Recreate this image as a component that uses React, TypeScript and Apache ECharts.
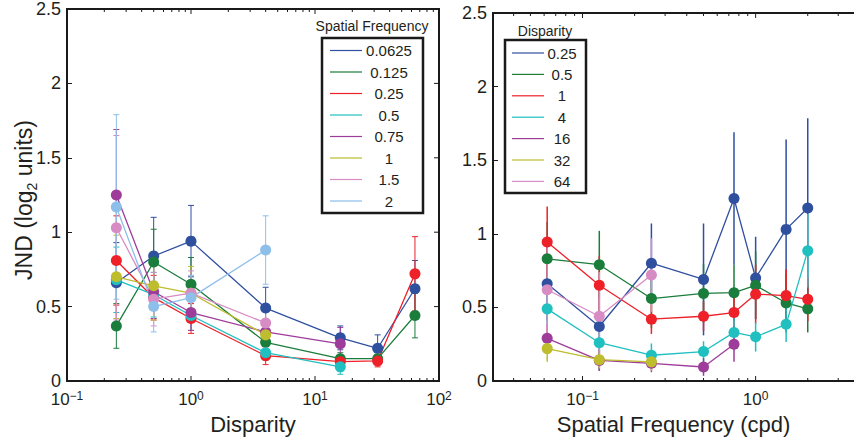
import React, { useEffect, useRef } from 'react';
import * as echarts from 'echarts';

// ---------- categories ----------
const DISPARITY = [0.25, 0.5, 1, 4, 16, 32, 64];
const SPATIAL_FREQ = [0.0625, 0.125, 0.25, 0.5, 0.75, 1, 1.5, 2];
const SF_LABELS = ['0.0625', '0.125', '0.25', '0.5', '0.75', '1', '1.5', '2'];
const DISP_LABELS = ['0.25', '0.5', '1', '4', '16', '32', '64'];

// ---------- tick values ----------
const L_MAJOR_TICKS = [0.1, 1, 10, 100];
const L_MINOR_TICKS = [0.2, 0.3, 0.4, 0.5, 0.6, 0.7, 0.8, 0.9, 2, 3, 4, 5, 6, 7, 8, 9, 20, 30, 40, 50, 60, 70, 80, 90];
const R_MAJOR_TICKS = [0.1, 1];
const R_MINOR_TICKS = [0.04, 0.05, 0.06, 0.07, 0.08, 0.09, 0.2, 0.3, 0.4, 0.5, 0.6, 0.7, 0.8, 0.9, 2, 3];
const Y_TICKS = [0, 0.5, 1, 1.5, 2, 2.5];
const Y_MIN = 0;
const Y_MAX = 2.5;
const Y_INTERVAL = 0.5;
const L_X_MIN = 0.1;
const L_X_MAX = 100;
const R_X_MIN = 0.0304;
const R_X_MAX = 3.7;

// ---------- left panel: JND vs disparity, one line per spatial frequency ----------
const L_SF_0625 = [0.66, 0.84, 0.94, 0.49, 0.29, 0.22, 0.62];
const L_SF_0625_ERR = [0.27, 0.26, 0.24, 0.14, 0.08, 0.09, 0.19];
const L_SF_125 = [0.37, 0.8, 0.65, 0.26, 0.15, 0.15, 0.44];
const L_SF_125_ERR = [0.15, 0.22, 0.18, 0.07, 0.04, 0.03, 0.15];
const L_SF_25 = [0.81, 0.56, 0.42, 0.17, 0.13, 0.135, 0.72];
const L_SF_25_ERR = [0.3, 0.15, 0.1, 0.06, 0.03, 0.04, 0.25];
const L_SF_5 = [0.68, 0.58, 0.44, 0.19, 0.095];
const L_SF_5_ERR = [0.22, 0.15, 0.1, 0.05, 0.05];
const L_SF_75 = [1.25, 0.6, 0.46, 0.33, 0.25];
const L_SF_75_ERR = [0.44, 0.18, 0.12, 0.08, 0.11];
const L_SF_1 = [0.7, 0.64, 0.59, 0.31];
const L_SF_1_ERR = [0.28, 0.23, 0.18, 0.1];
const L_SF_15 = [1.03, 0.55, 0.59, 0.39];
const L_SF_15_ERR = [0.62, 0.18, 0.15, 0.12];
const L_SF_2 = [1.17, 0.5, 0.56, 0.88];
const L_SF_2_ERR = [0.62, 0.17, 0.15, 0.23];

// ---------- right panel: JND vs spatial frequency, one line per disparity ----------
const R_D_25 = [0.66, 0.37, 0.8, 0.69, 1.24, 0.7, 1.03, 1.175];
const R_D_25_ERR = [0.25, 0.3, 0.27, 0.38, 0.45, 0.28, 0.61, 0.61];
const R_D_5 = [0.83, 0.79, 0.56, 0.595, 0.6, 0.65, 0.53, 0.49];
const R_D_5_ERR = [0.25, 0.23, 0.2, 0.2, 0.19, 0.23, 0.2, 0.16];
const R_D_1 = [0.945, 0.65, 0.42, 0.44, 0.465, 0.59, 0.58, 0.555];
const R_D_1_ERR = [0.24, 0.2, 0.1, 0.1, 0.15, 0.2, 0.18, 0.15];
const R_D_4 = [0.49, 0.26, 0.175, 0.2, 0.33, 0.3, 0.385, 0.885];
const R_D_4_ERR = [0.1, 0.08, 0.08, 0.07, 0.12, 0.1, 0.12, 0.25];
const R_D_16 = [0.29, 0.14, 0.12, 0.095, 0.25];
const R_D_16_ERR = [0.1, 0.07, 0.06, 0.06, 0.12];
const R_D_32 = [0.22, 0.145, 0.13];
const R_D_32_ERR = [0.09, 0.06, 0.06];
const R_D_64 = [0.62, 0.44, 0.72];
const R_D_64_ERR = [0.33, 0.3, 0.25];

const LEFT_MEANS = [L_SF_0625, L_SF_125, L_SF_25, L_SF_5, L_SF_75, L_SF_1, L_SF_15, L_SF_2];
const LEFT_ERRS = [L_SF_0625_ERR, L_SF_125_ERR, L_SF_25_ERR, L_SF_5_ERR, L_SF_75_ERR, L_SF_1_ERR, L_SF_15_ERR, L_SF_2_ERR];
const RIGHT_MEANS = [R_D_25, R_D_5, R_D_1, R_D_4, R_D_16, R_D_32, R_D_64];
const RIGHT_ERRS = [R_D_25_ERR, R_D_5_ERR, R_D_1_ERR, R_D_4_ERR, R_D_16_ERR, R_D_32_ERR, R_D_64_ERR];

// ---------- styles ----------
const BLUE = '#2f4f9f';
const GREEN = '#1b7d3c';
const RED = '#ee2028';
const CYAN = '#20bfc0';
const PURPLE = '#9e3c9a';
const YELLOW = '#bdbd2e';
const PINK = '#d88cc4';
const LIGHTBLUE = '#8ebfea';
const COLORS_LEFT = [BLUE, GREEN, RED, CYAN, PURPLE, YELLOW, PINK, LIGHTBLUE];
const COLORS_RIGHT = [BLUE, GREEN, RED, CYAN, PURPLE, YELLOW, PINK];

const FONT = "'Liberation Sans', Arial, Helvetica, sans-serif";
const TEXT = '#231f20';
const AX = '#1a1a1a';

const LEFT_GRID = { left: 67, top: 9, width: 372, height: 373 };
const RIGHT_GRID = { left: 493, top: 13, width: 363, height: 369 };

function errorSeries(xs: number[], means: number[], errs: number[], color: string, xi: number, yi: number, caps: boolean, lw: number) {
  const data = means.map((m, i) => [xs[i], m - errs[i], m + errs[i]]);
  return {
    type: 'custom',
    xAxisIndex: xi,
    yAxisIndex: yi,
    silent: true,
    clip: false,
    encode: { x: 0, y: [1, 2] },
    data,
    renderItem: (_p: any, api: any) => {
      const x = api.value(0);
      const lo = api.coord([x, api.value(1)]);
      const hi = api.coord([x, api.value(2)]);
      const children: any[] = [
        { type: 'line', shape: { x1: lo[0], y1: lo[1], x2: hi[0], y2: hi[1] }, style: { stroke: color, lineWidth: lw } },
      ];
      if (caps) {
        children.push({ type: 'line', shape: { x1: lo[0] - 3, y1: lo[1], x2: lo[0] + 3, y2: lo[1] }, style: { stroke: color, lineWidth: lw } });
        children.push({ type: 'line', shape: { x1: hi[0] - 3, y1: hi[1], x2: hi[0] + 3, y2: hi[1] }, style: { stroke: color, lineWidth: lw } });
      }
      return { type: 'group', children };
    },
  };
}

function lineSeries(name: string, xs: number[], means: number[], color: string, xi: number, yi: number) {
  return {
    type: 'line',
    name,
    xAxisIndex: xi,
    yAxisIndex: yi,
    silent: true,
    data: means.map((m, i) => [xs[i], m]),
    symbol: 'circle',
    symbolSize: 11,
    lineStyle: { color, width: 1.3 },
    itemStyle: { color },
  };
}

// x ticks (bottom + top, inward) and decade labels
function xTickSeries(majors: number[], minors: number[], xi: number, yi: number) {
  const data = [...majors.map((v) => [v, 1]), ...minors.map((v) => [v, 0])];
  return {
    type: 'custom',
    xAxisIndex: xi,
    yAxisIndex: yi,
    silent: true,
    clip: false,
    z: 5,
    encode: { x: 0, y: 1 },
    data,
    renderItem: (_params: any, api: any) => {
      const x = api.value(0);
      const major = api.value(1) === 1;
      const b = api.coord([x, Y_MIN]);
      const t = api.coord([x, Y_MAX]);
      const len = major ? 5 : 3;
      const children: any[] = [
        { type: 'line', shape: { x1: b[0], y1: b[1], x2: b[0], y2: b[1] - len }, style: { stroke: AX, lineWidth: 1 } },
        { type: 'line', shape: { x1: t[0], y1: t[1], x2: t[0], y2: t[1] + len }, style: { stroke: AX, lineWidth: 1 } },
      ];
      if (major) {
        const e = Math.round(Math.log10(x));
        const expText = e < 0 ? '\u2212' + Math.abs(e) : String(e);
        children.push({
          type: 'text',
          x: b[0],
          y: b[1] + 9,
          style: {
            text: '{b|10}{s|' + expText + '}',
            align: 'center',
            verticalAlign: 'top',
            fill: TEXT,
            fontFamily: FONT,
            rich: {
              b: { fontSize: 17, fontFamily: FONT, fill: TEXT, verticalAlign: 'bottom', lineHeight: 18 },
              s: { fontSize: 12, fontFamily: FONT, fill: TEXT, verticalAlign: 'top', lineHeight: 12, padding: [0, 0, 9, 0] },
            },
          },
        });
      }
      return { type: 'group', children };
    },
  };
}

// y ticks on the right edge of a panel (inward)
function rightYTickSeries(xMax: number, xi: number, yi: number) {
  return {
    type: 'custom',
    xAxisIndex: xi,
    yAxisIndex: yi,
    silent: true,
    clip: false,
    z: 5,
    encode: { x: 0, y: 1 },
    data: Y_TICKS.map((v) => [xMax, v]),
    renderItem: (_p: any, api: any) => {
      const p = api.coord([api.value(0), api.value(1)]);
      return { type: 'line', shape: { x1: p[0], y1: p[1], x2: p[0] - 5, y2: p[1] }, style: { stroke: AX, lineWidth: 1 } };
    },
  };
}

// top and right edges of each panel box
function boxGraphics(g: { left: number; top: number; width: number; height: number }) {
  const x2 = g.left + g.width;
  const y2 = g.top + g.height;
  return [
    { type: 'line', z: 60, silent: true, shape: { x1: g.left - 1, y1: g.top, x2: x2 + 1, y2: g.top }, style: { stroke: AX, lineWidth: 2 } },
    { type: 'line', z: 60, silent: true, shape: { x1: x2, y1: g.top, x2: x2, y2: y2 }, style: { stroke: AX, lineWidth: 2 } },
  ];
}

function legendGraphics(
  title: string,
  labels: string[],
  colors: string[],
  box: { x: number; y: number; w: number; h: number },
  titleX: number,
  titleY: number,
  rowStart: number,
  rowGap: number,
  lineX1: number,
  lineX2: number,
  textX: number
) {
  const els: any[] = [
    {
      type: 'text',
      x: titleX,
      y: titleY,
      style: { text: title, align: 'center', verticalAlign: 'middle', fontSize: 14, fontFamily: FONT, fill: TEXT },
      z: 100,
    },
    {
      type: 'rect',
      shape: { x: box.x, y: box.y, width: box.w, height: box.h },
      style: { fill: '#ffffff', stroke: AX, lineWidth: 2.5 },
      z: 100,
    },
  ];
  labels.forEach((lab, i) => {
    const y = rowStart + i * rowGap;
    els.push({
      type: 'line',
      shape: { x1: lineX1, y1: y, x2: lineX2, y2: y },
      style: { stroke: colors[i], lineWidth: 1.2 },
      z: 101,
    });
    els.push({
      type: 'text',
      x: textX,
      y,
      style: { text: lab, align: 'center', verticalAlign: 'middle', fontSize: 15, fontFamily: FONT, fill: TEXT },
      z: 101,
    });
  });
  return els;
}

function yAxisDef(gridIndex: number) {
  return {
    type: 'value',
    gridIndex,
    position: 'left',
    min: Y_MIN,
    max: Y_MAX,
    interval: Y_INTERVAL,
    axisLine: { show: true, onZero: false, lineStyle: { color: AX, width: 2 } },
    axisTick: { show: true, inside: true, length: 5, lineStyle: { color: AX, width: 1 } },
    axisLabel: { show: true, fontSize: 18, lineHeight: 14, color: TEXT, margin: 6, fontFamily: FONT },
    splitLine: { show: false },
  };
}

function xAxisDef(gridIndex: number, min: number, max: number, name: string) {
  return {
    type: 'log',
    logBase: 10,
    gridIndex,
    position: 'bottom',
    min,
    max,
    name,
    nameLocation: 'middle',
    nameGap: 32,
    nameTextStyle: { fontSize: 22, color: TEXT, fontFamily: FONT },
    axisLine: { show: true, onZero: false, lineStyle: { color: AX, width: 2 } },
    axisTick: { show: false },
    axisLabel: { show: false },
    splitLine: { show: false },
    minorTick: { show: false },
  };
}

function buildOption() {
  const series: any[] = [];
  LEFT_MEANS.forEach((m, i) => {
    series.push(errorSeries(DISPARITY, m, LEFT_ERRS[i], COLORS_LEFT[i], 0, 0, true, 1));
    series.push(lineSeries('SF ' + SF_LABELS[i], DISPARITY, m, COLORS_LEFT[i], 0, 0));
  });
  RIGHT_MEANS.forEach((m, i) => {
    series.push(errorSeries(SPATIAL_FREQ, m, RIGHT_ERRS[i], COLORS_RIGHT[i], 1, 1, false, 1.5));
    series.push(lineSeries('D ' + DISP_LABELS[i], SPATIAL_FREQ, m, COLORS_RIGHT[i], 1, 1));
  });
  series.push(xTickSeries(L_MAJOR_TICKS, L_MINOR_TICKS, 0, 0));
  series.push(xTickSeries(R_MAJOR_TICKS, R_MINOR_TICKS, 1, 1));
  series.push(rightYTickSeries(L_X_MAX, 0, 0));

  const graphic: any[] = [
    ...boxGraphics(LEFT_GRID),
    ...boxGraphics(RIGHT_GRID),
    {
      type: 'text',
      x: 24,
      y: 200,
      rotation: Math.PI / 2,
      style: {
        text: 'JND (log{s|2} units)',
        align: 'center',
        verticalAlign: 'middle',
        fontSize: 23,
        fontFamily: FONT,
        fill: TEXT,
        rich: {
          s: { fontSize: 14, fontFamily: FONT, fill: TEXT, verticalAlign: 'bottom', padding: [16, 0, 0, 0] },
        },
      },
    },
    ...legendGraphics('Spatial Frequency', SF_LABELS, COLORS_LEFT, { x: 322, y: 38, w: 101, h: 175 }, 372, 26, 50.5, 21.5, 330, 362, 389),
    ...legendGraphics('Disparity', DISP_LABELS, COLORS_RIGHT, { x: 505, y: 40, w: 81, h: 153 }, 545, 31, 53, 21.4, 512, 544, 562),
  ];

  return {
    animation: false,
    backgroundColor: '#ffffff',
    textStyle: { fontFamily: FONT },
    grid: [
      { ...LEFT_GRID, containLabel: false },
      { ...RIGHT_GRID, containLabel: false },
    ],
    xAxis: [xAxisDef(0, L_X_MIN, L_X_MAX, 'Disparity'), xAxisDef(1, R_X_MIN, R_X_MAX, 'Spatial Frequency (cpd)')],
    yAxis: [yAxisDef(0), yAxisDef(1)],
    series,
    graphic,
  };
}

export default function App() {
  const ref = useRef<HTMLDivElement>(null);
  useEffect(() => {
    if (!ref.current) return;
    const chart = echarts.init(ref.current, undefined, { renderer: 'svg' });
    chart.setOption(buildOption() as any);
    return () => chart.dispose();
  }, []);
  return (
    <div
      ref={ref}
      style={{ position: 'fixed', left: 0, top: 0, width: 854, height: 440, background: '#ffffff' }}
    />
  );
}
